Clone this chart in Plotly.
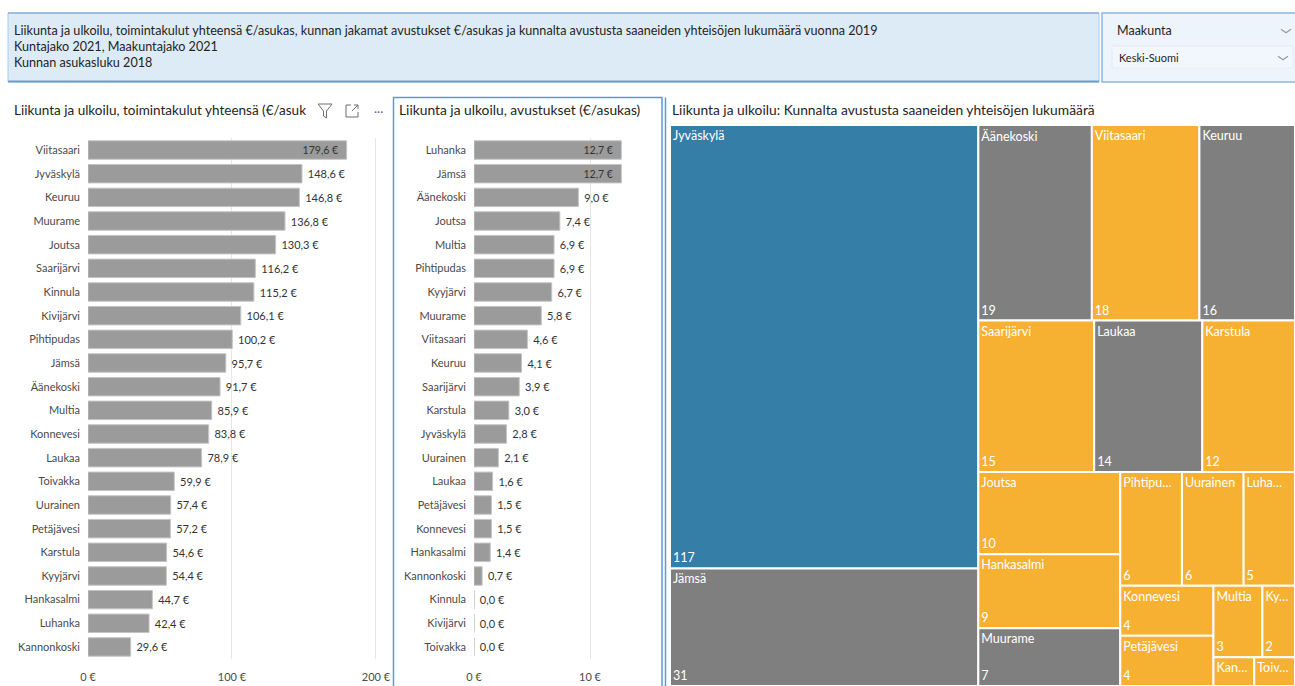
import plotly.graph_objects as go

W, H = 1295, 686
FONT = "Segoe UI, Lato, Open Sans, sans-serif"

# ---------------- data ----------------
header_lines = [
    "Liikunta ja ulkoilu, toimintakulut yhteensä €/asukas, kunnan jakamat avustukset €/asukas ja kunnalta avustusta saaneiden yhteisöjen lukumäärä vuonna 2019",
    "Kuntajako 2021, Maakuntajako 2021",
    "Kunnan asukasluku 2018",
]
slicer_title = "Maakunta"
slicer_value = "Keski-Suomi"

title1 = "Liikunta ja ulkoilu, toimintakulut yhteensä (€/asuk"
title2 = "Liikunta ja ulkoilu, avustukset (€/asukas)"
title3 = "Liikunta ja ulkoilu: Kunnalta avustusta saaneiden yhteisöjen lukumäärä"

cost_names = ["Viitasaari", "Jyväskylä", "Keuruu", "Muurame", "Joutsa", "Saarijärvi",
              "Kinnula", "Kivijärvi", "Pihtipudas", "Jämsä", "Äänekoski", "Multia",
              "Konnevesi", "Laukaa", "Toivakka", "Uurainen", "Petäjävesi", "Karstula",
              "Kyyjärvi", "Hankasalmi", "Luhanka", "Kannonkoski"]
cost_values = [179.6, 148.6, 146.8, 136.8, 130.3, 116.2, 115.2, 106.1, 100.2, 95.7, 91.7,
               85.9, 83.8, 78.9, 59.9, 57.4, 57.2, 54.6, 54.4, 44.7, 42.4, 29.6]
cost_ticks = [0, 100, 200]

grant_names = ["Luhanka", "Jämsä", "Äänekoski", "Joutsa", "Multia", "Pihtipudas",
               "Kyyjärvi", "Muurame", "Viitasaari", "Keuruu", "Saarijärvi", "Karstula",
               "Jyväskylä", "Uurainen", "Laukaa", "Petäjävesi", "Konnevesi", "Hankasalmi",
               "Kannonkoski", "Kinnula", "Kivijärvi", "Toivakka"]
grant_values = [12.7, 12.7, 9.0, 7.4, 6.9, 6.9, 6.7, 5.8, 4.6, 4.1, 3.9, 3.0, 2.8, 2.1,
                1.6, 1.5, 1.5, 1.4, 0.7, 0.0, 0.0, 0.0]
grant_ticks = [0, 10]

tm_labels = ["Jyväskylä", "Jämsä", "Äänekoski", "Viitasaari", "Keuruu", "Saarijärvi",
             "Laukaa", "Karstula", "Joutsa", "Hankasalmi", "Muurame", "Pihtipudas",
             "Uurainen", "Luhanka", "Konnevesi", "Petäjävesi", "Multia", "Kyyjärvi",
             "Kannonkoski", "Toivakka"]
tm_values = [117, 31, 19, 18, 16, 15, 14, 12, 10, 9, 7, 6, 6, 5, 4, 4, 3, 2, 1, 1]
tm_shown = ["Jyväskylä", "Jämsä", "Äänekoski", "Viitasaari", "Keuruu", "Saarijärvi",
            "Laukaa", "Karstula", "Joutsa", "Hankasalmi", "Muurame", "Pihtipu…",
            "Uurainen", "Luha…", "Konnevesi", "Petäjävesi", "Multia", "Ky…",
            "Kan…", "Toiv…"]
tm_group = ["Kaupunkimainen", "Taajaan asuttu", "Taajaan asuttu", "Maaseutumainen",
            "Taajaan asuttu", "Maaseutumainen", "Taajaan asuttu", "Maaseutumainen",
            "Maaseutumainen", "Maaseutumainen", "Taajaan asuttu", "Maaseutumainen",
            "Maaseutumainen", "Maaseutumainen", "Maaseutumainen", "Maaseutumainen",
            "Maaseutumainen", "Maaseutumainen", "Maaseutumainen", "Maaseutumainen"]
group_colors = {"Kaupunkimainen": "#347EA7", "Taajaan asuttu": "#7F7F7F",
                "Maaseutumainen": "#F6B133"}

# ---------------- helpers ----------------
def X(px):
    return px / W


def Y(py):
    return 1 - py / H


def eur(v):
    return f"{v:.1f}".replace(".", ",") + "\u00a0€"


BAR_COLOR = "#9B9B9B"
LABEL_COLOR = "#333333"
TICK_COLOR = "#4A4A4A"

x1_range = [0, 201.4]
x2_range = [0, 15.17]


def positions(vals, rmax):
    return ["inside" if v / rmax > 0.8 else "outside" for v in vals]


fig = go.Figure()

fig.add_trace(go.Bar(
    y=cost_names, x=cost_values, orientation="h",
    text=["\u00a0" + eur(v) if p == "outside" else eur(v) + "\u00a0\u00a0"
          for v, p in zip(cost_values, positions(cost_values, x1_range[1]))],
    textposition=positions(cost_values, x1_range[1]),
    insidetextanchor="end",
    textfont=dict(size=11, color=LABEL_COLOR, family=FONT),
    insidetextfont=dict(size=11, color=LABEL_COLOR, family=FONT),
    outsidetextfont=dict(size=11, color=LABEL_COLOR, family=FONT),
    marker=dict(color=BAR_COLOR, line=dict(color="#C4C4C4", width=1)),
    cliponaxis=False, xaxis="x", yaxis="y", showlegend=False,
    hovertemplate="%{y}: %{x:.1f} €<extra></extra>",
))

fig.add_trace(go.Bar(
    y=grant_names, x=grant_values, orientation="h",
    text=["\u00a0" + eur(v) if p == "outside" else eur(v) + "\u00a0\u00a0"
          for v, p in zip(grant_values, positions(grant_values, x2_range[1]))],
    textposition=positions(grant_values, x2_range[1]),
    insidetextanchor="end",
    textfont=dict(size=11, color=LABEL_COLOR, family=FONT),
    insidetextfont=dict(size=11, color=LABEL_COLOR, family=FONT),
    outsidetextfont=dict(size=11, color=LABEL_COLOR, family=FONT),
    marker=dict(color=BAR_COLOR, line=dict(color="#C4C4C4", width=1)),
    cliponaxis=False, xaxis="x2", yaxis="y2", showlegend=False,
    hovertemplate="%{y}: %{x:.1f} €<extra></extra>",
))

tm_domain = dict(x=[X(670), 1], y=[0, Y(125)])
tm_colors = [group_colors[g] for g in tm_group]
# values of the smallest cells are hidden (cut off) in the reference view
tm_value_text = [str(v) if v > 1 else "" for v in tm_values]

fig.add_trace(go.Treemap(
    labels=tm_labels, parents=[""] * len(tm_labels), values=tm_values,
    text=tm_shown, texttemplate="%{text}", textposition="top left",
    textfont=dict(size=12.5, color="white", family=FONT),
    marker=dict(colors=tm_colors, line=dict(color="white", width=2),
                pad=dict(t=0, l=0, r=0, b=0)),
    tiling=dict(packing="squarify", squarifyratio=1.618034, pad=0),
    pathbar=dict(visible=False), sort=False, domain=tm_domain,
    hovertemplate="%{label}: %{value}<extra></extra>",
))
fig.add_trace(go.Treemap(
    labels=tm_labels, parents=[""] * len(tm_labels), values=tm_values,
    text=tm_value_text, texttemplate="%{text}", textposition="bottom left",
    textfont=dict(size=12.5, color="white", family=FONT),
    marker=dict(colors=["rgba(0,0,0,0)"] * len(tm_labels),
                line=dict(color="rgba(0,0,0,0)", width=0),
                pad=dict(t=0, l=0, r=0, b=0)),
    tiling=dict(packing="squarify", squarifyratio=1.618034, pad=0),
    pathbar=dict(visible=False), sort=False, domain=tm_domain,
    hoverinfo="skip",
))

ydom = [Y(658.8), Y(138.2)]
common_x = dict(showgrid=True, gridcolor="#E6E6E6", gridwidth=1, zeroline=False,
                showline=False, ticks="", ticklabelstandoff=10, automargin=False,
                tickfont=dict(size=11, color=TICK_COLOR, family=FONT), fixedrange=True)
common_y = dict(type="category", autorange="reversed", showgrid=False, zeroline=False,
                showline=False, ticks="", ticklabelstandoff=7, automargin=False,
                tickfont=dict(size=11, color=TICK_COLOR, family=FONT), fixedrange=True)

fig.update_layout(
    width=W, height=H, margin=dict(l=0, r=0, t=0, b=0, autoexpand=False),
    paper_bgcolor="white", plot_bgcolor="white",
    font=dict(family=FONT, size=12, color="#252423"),
    bargap=0.22, showlegend=False,
    xaxis=dict(domain=[X(88), X(378)], range=x1_range, tickvals=cost_ticks,
               ticktext=[f"{t} €" for t in cost_ticks], anchor="y", **common_x),
    yaxis=dict(domain=ydom, anchor="x", **common_y),
    xaxis2=dict(domain=[X(474), X(650)], range=x2_range, tickvals=grant_ticks,
                ticktext=[f"{t} €" for t in grant_ticks], anchor="y2", **common_x),
    yaxis2=dict(domain=ydom, anchor="x2", **common_y),
)

shapes = []
# header box
shapes.append(dict(type="rect", xref="paper", yref="paper", x0=X(8), x1=X(1099),
                   y0=Y(82), y1=Y(13), fillcolor="#DDEBF7",
                   line=dict(color="#A9C8E8", width=1), layer="below"))
shapes.append(dict(type="line", xref="paper", yref="paper", x0=X(8), x1=X(1099),
                   y0=Y(81.5), y1=Y(81.5), line=dict(color="#6A9FD4", width=2)))
shapes.append(dict(type="line", xref="paper", yref="paper", x0=X(8), x1=X(1099),
                   y0=Y(13), y1=Y(13), line=dict(color="#6A9FD4", width=1)))
# slicer box
shapes.append(dict(type="rect", xref="paper", yref="paper", x0=X(1102), x1=X(1310),
                   y0=Y(82), y1=Y(13), fillcolor="#EDF4FC",
                   line=dict(color="#8DB6E0", width=1.5), layer="below"))
shapes.append(dict(type="rect", xref="paper", yref="paper", x0=X(1112), x1=X(1293),
                   y0=Y(68), y1=Y(46), fillcolor="#F2F7FD",
                   line=dict(color="#E2EAF3", width=1), layer="below"))


def chevron(cx, cy, w=5, h=3.5, color="#9A9A9A"):
    path = (f"M {X(cx - w)} {Y(cy - h / 2)} L {X(cx)} {Y(cy + h / 2)} "
            f"L {X(cx + w)} {Y(cy - h / 2)}")
    return dict(type="path", xref="paper", yref="paper", path=path,
                line=dict(color=color, width=1.2))


shapes.append(chevron(1286, 31))
shapes.append(chevron(1283, 58))
# panel borders
shapes.append(dict(type="rect", xref="paper", yref="paper", x0=X(393.5), x1=X(662),
                   y0=Y(690), y1=Y(97.5), line=dict(color="#5B9BD5", width=1.5)))
shapes.append(dict(type="line", xref="paper", yref="paper", x0=X(665.5), x1=X(665.5),
                   y0=Y(690), y1=Y(97.5), line=dict(color="#5B9BD5", width=1.5)))
# visual header icons (filter funnel, focus mode)
funnel = (f"M {X(318)} {Y(104)} L {X(332)} {Y(104)} L {X(326.5)} {Y(111)} "
          f"L {X(326.5)} {Y(118)} L {X(323.5)} {Y(116)} L {X(323.5)} {Y(111)} Z")
shapes.append(dict(type="path", xref="paper", yref="paper", path=funnel,
                   line=dict(color="#6E6E6E", width=1)))
focus = (f"M {X(351)} {Y(105)} L {X(346)} {Y(105)} L {X(346)} {Y(117)} L {X(358)} {Y(117)} "
         f"L {X(358)} {Y(112)} M {X(352)} {Y(111)} L {X(358)} {Y(105)} "
         f"M {X(354)} {Y(105)} L {X(358)} {Y(105)} L {X(358)} {Y(109)}")
shapes.append(dict(type="path", xref="paper", yref="paper", path=focus,
                   line=dict(color="#6E6E6E", width=1)))
fig.update_layout(shapes=shapes)

ann = []


def text(px, py, s, size=12, color="#252423", anchor="left"):
    ann.append(dict(x=X(px), y=Y(py), xref="paper", yref="paper", text=s,
                    showarrow=False, xanchor=anchor, yanchor="middle",
                    font=dict(size=size, color=color, family=FONT)))


for i, line in enumerate(header_lines):
    text(12, 30 + i * 16.5, line, size=12.6)
text(1115, 30, slicer_title, size=12.5)
text(1117, 57, slicer_value, size=11)
text(12, 110, title1, size=13.5)
text(397, 110, title2, size=13.8)
text(670, 110, title3, size=13.8)
text(372, 111, "···", size=12, color="#6E6E6E")
fig.update_layout(annotations=ann)

fig.write_html("out.html")
